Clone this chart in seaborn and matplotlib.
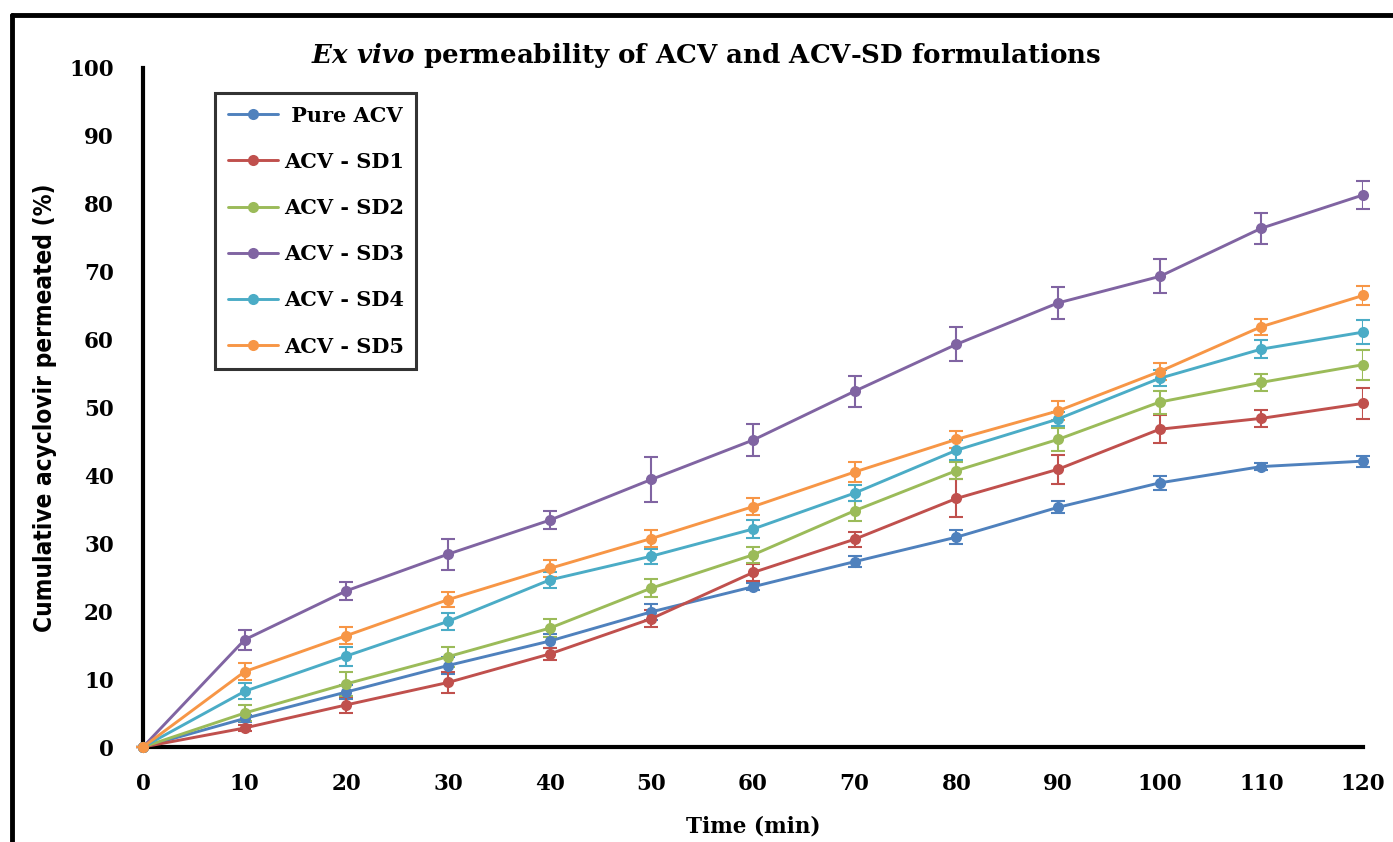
import numpy as np
import pandas as pd
import matplotlib
matplotlib.use("Agg")
import matplotlib.pyplot as plt
from matplotlib.lines import Line2D
import seaborn as sns

# ---- data ----
time_min = [0, 10, 20, 30, 40, 50, 60, 70, 80, 90, 100, 110, 120]
series_names = [" Pure ACV", "ACV - SD1", "ACV - SD2", "ACV - SD3", "ACV - SD4", "ACV - SD5"]
pure_acv = [0, 4.2, 8.1, 12.0, 15.6, 19.9, 23.6, 27.3, 30.9, 35.3, 38.9, 41.3, 42.1]
sd1 = [0, 2.8, 6.2, 9.5, 13.7, 18.9, 25.7, 30.6, 36.6, 40.9, 46.8, 48.4, 50.6]
sd2 = [0, 5.0, 9.3, 13.3, 17.5, 23.4, 28.3, 34.8, 40.7, 45.3, 50.8, 53.7, 56.3]
sd3 = [0, 15.8, 23.0, 28.4, 33.4, 39.4, 45.2, 52.4, 59.3, 65.4, 69.3, 76.4, 81.3]
sd4 = [0, 8.2, 13.4, 18.5, 24.6, 28.1, 32.1, 37.4, 43.7, 48.3, 54.3, 58.6, 61.1]
sd5 = [0, 11.1, 16.4, 21.7, 26.3, 30.7, 35.4, 40.5, 45.3, 49.5, 55.3, 61.9, 66.5]
err_pure = [0, 0.5, 1.0, 1.2, 1.0, 1.2, 0.5, 0.8, 1.0, 0.9, 1.0, 0.5, 0.8]
err_sd1 = [0, 0.5, 1.2, 1.5, 0.9, 1.3, 1.2, 1.1, 2.8, 2.1, 2.1, 1.2, 2.3]
err_sd2 = [0, 1.2, 1.8, 1.5, 1.3, 1.3, 1.2, 1.5, 1.3, 1.7, 1.7, 1.2, 2.2]
err_sd3 = [0, 1.5, 1.3, 2.3, 1.3, 3.3, 2.4, 2.3, 2.5, 2.3, 2.5, 2.3, 2.1]
err_sd4 = [0, 1.2, 1.4, 1.3, 1.2, 1.1, 1.3, 1.2, 1.5, 1.0, 1.2, 1.3, 1.8]
err_sd5 = [0, 1.2, 1.3, 1.1, 1.3, 1.2, 1.3, 1.5, 1.2, 1.4, 1.2, 1.2, 1.4]
x_ticks = [0, 10, 20, 30, 40, 50, 60, 70, 80, 90, 100, 110, 120]
y_ticks = [0, 10, 20, 30, 40, 50, 60, 70, 80, 90, 100]

colors = ["#4F81BD", "#C0504D", "#9BBB59", "#8064A2", "#4BACC6", "#F79646"]
values = [pure_acv, sd1, sd2, sd3, sd4, sd5]
errors = [err_pure, err_sd1, err_sd2, err_sd3, err_sd4, err_sd5]

rows = []
for name, vals, errs in zip(series_names, values, errors):
    for t, v, e in zip(time_min, vals, errs):
        rows.append({"Time": t, "Value": v, "Err": e, "Series": name})
df = pd.DataFrame(rows)

sns.set_theme(style="white")
plt.rcParams["font.family"] = ["DejaVu Serif"]
plt.rcParams["text.color"] = "black"
plt.rcParams["mathtext.fontset"] = "custom"
plt.rcParams["mathtext.it"] = "DejaVu Serif:italic:bold"
plt.rcParams["mathtext.rm"] = "DejaVu Serif:bold"

fig = plt.figure(figsize=(13.93, 8.42), dpi=100)
ax = fig.add_axes([143/1393, 1-747/842, (1363-143)/1393, (747-68)/842])

palette = dict(zip(series_names, colors))
# error bars first
for name, vals, errs in zip(series_names, values, errors):
    ax.errorbar(time_min, vals, yerr=errs, fmt="none", ecolor=palette[name],
                elinewidth=1.5, capsize=5, capthick=1.5, zorder=2)
sns.lineplot(data=df, x="Time", y="Value", hue="Series", palette=palette,
             marker="o", markersize=8, markeredgewidth=0, linewidth=2.1,
             ax=ax, legend=False, zorder=3)

ax.set_xlim(0, 120)
ax.set_ylim(0, 100)
ax.set_xticks(x_ticks)
ax.set_yticks(y_ticks)
ax.set_xticklabels([str(t) for t in x_ticks], fontsize=15.5, fontweight="bold")
ax.set_yticklabels([str(t) for t in y_ticks], fontsize=15.5, fontweight="bold")
for side in ["top", "right"]:
    ax.spines[side].set_visible(False)
for side in ["left", "bottom"]:
    ax.spines[side].set_linewidth(3)
    ax.spines[side].set_color("black")
    ax.spines[side].set_clip_on(False)
ax.tick_params(axis="both", which="major", direction="out", length=7, width=2.5,
               color="black", labelcolor="black")
ax.tick_params(axis="x", pad=12)
ax.tick_params(axis="y", pad=14)
ax.set_xlabel("")
ax.set_ylabel("")
for line in ax.lines:
    line.set_clip_on(False)

fig.text(753/1393, 1-826/842, "Time (min)", ha="center", va="center",
         fontsize=15.5, fontweight="bold", color="black")
fig.text(45/1393, 1-408/842, "Cumulative acyclovir permeated (%)", ha="center", va="center",
         rotation=90, fontsize=17.5, fontweight="bold", family="DejaVu Sans",
         fontstretch="condensed", color="black")
fig.text(706/1393, 1-55/842, r"$\mathit{Ex\ vivo}$ permeability of ACV and ACV-SD formulations",
         ha="center", va="center", fontsize=18.8, fontweight="bold", color="black")

handles = [Line2D([0], [0], color=c, lw=2.1, marker="o", markersize=8, markeredgewidth=0)
           for c in colors]
leg = fig.legend(handles, series_names, loc="upper left",
                 bbox_to_anchor=(215/1393, 1-93/842), frameon=True, fancybox=False,
                 prop={"family": "DejaVu Serif", "weight": "bold", "size": 15},
                 handlelength=2.4, handletextpad=0.3, labelspacing=1.26,
                 borderpad=0.6, borderaxespad=0)
leg.get_frame().set_edgecolor("black")
leg.get_frame().set_linewidth(2.2)
for t in leg.get_texts():
    t.set_color("black")

# outer figure frame (top and left)
fig.add_artist(Line2D([12/1393, 12/1393], [0, 1-15/842], transform=fig.transFigure,
                      color="black", lw=3.5))
fig.add_artist(Line2D([12/1393, 1], [1-15/842, 1-15/842], transform=fig.transFigure,
                      color="black", lw=3.5))

fig.savefig("out.png", dpi=100)
